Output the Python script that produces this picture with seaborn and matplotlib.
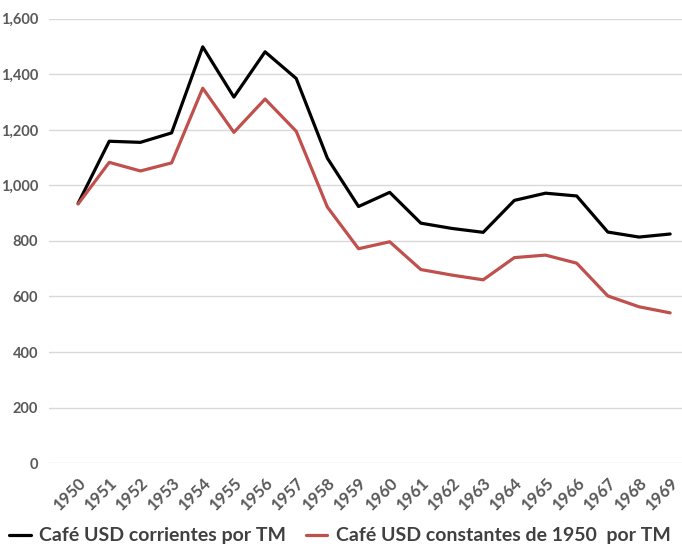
import matplotlib
matplotlib.use("Agg")
import matplotlib.pyplot as plt
import seaborn as sns
import pandas as pd
from matplotlib.lines import Line2D

years = list(range(1950, 1970))
corrientes = [935, 1159, 1155, 1189, 1499, 1318, 1481, 1385, 1098, 924,
              975, 864, 845, 831, 946, 972, 962, 832, 814, 825]
constantes = [933, 1083, 1052, 1081, 1350, 1191, 1311, 1195, 922, 772,
              797, 697, 677, 660, 740, 749, 720, 602, 563, 541]
serie_a = "Café USD corrientes por TM"
serie_b = "Café USD constantes de 1950  por TM"

sns.set_style("white")
plt.rcParams['font.family'] = ['Lato', 'DejaVu Sans']

df = pd.DataFrame({"year": years * 2,
                   "valor": corrientes + constantes,
                   "serie": [serie_a] * len(years) + [serie_b] * len(years)})

fig = plt.figure(figsize=(6.82, 5.52), dpi=100)
ax = fig.add_axes([0.072, 0.161, 0.928, 0.805])
sns.lineplot(data=df, x="year", y="valor", hue="serie",
             palette={serie_a: "#000000", serie_b: "#C0504D"},
             linewidth=2.3, ax=ax, legend=False)

ax.set_ylim(0, 1600)
ax.set_xlim(1950 - 0.93, 1950 + 19.38)
ax.set_yticks(range(0, 1601, 200))
ax.set_yticklabels([f"{v:,}" for v in range(0, 1601, 200)],
                   fontsize=10.5, fontweight="bold", color="#595959")
ax.set_xticks(years)
ax.set_xticklabels([str(y) for y in years], rotation=45, ha="right",
                   rotation_mode="anchor", fontsize=12, fontweight="bold",
                   color="#595959")
ax.tick_params(axis="y", length=0, pad=8)
ax.tick_params(axis="x", length=0, pad=8)
ax.yaxis.grid(True, color="#d9d9d9", linewidth=1)
ax.set_axisbelow(True)
for s in ax.spines.values():
    s.set_visible(False)
ax.set_xlabel("")
ax.set_ylabel("")

handles = [Line2D([], [], color="#000000", lw=2.3),
           Line2D([], [], color="#C0504D", lw=2.3)]
fig.legend(handles, [serie_a, serie_b], loc="lower left", bbox_to_anchor=(-0.012, -0.018),
           ncol=2, frameon=False, handlelength=1.1, handletextpad=0.45,
           columnspacing=1.0, prop={"size": 14, "weight": "bold"},
           labelcolor="#404040")

fig.savefig("out.png", dpi=100)
